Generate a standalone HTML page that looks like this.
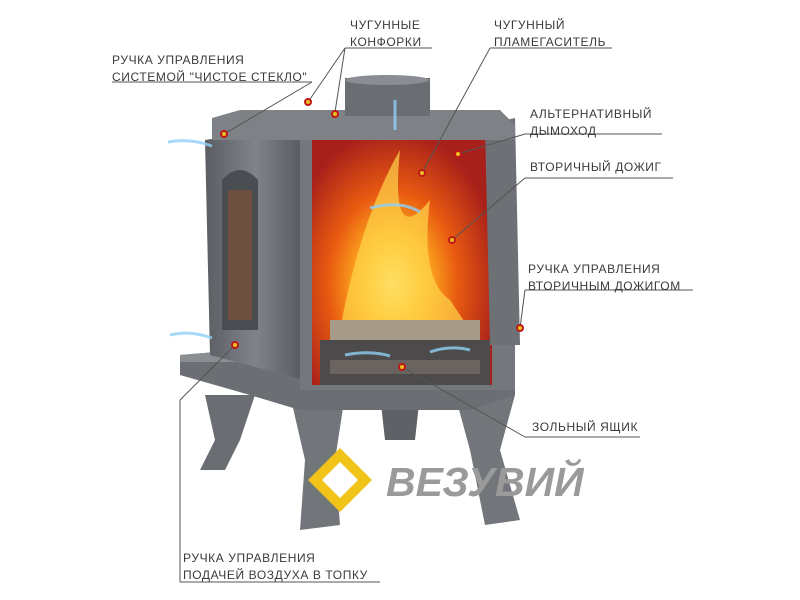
<!DOCTYPE html>
<html><head><meta charset="utf-8"><style>
html,body{margin:0;padding:0;background:#fff;width:800px;height:600px;overflow:hidden}
.t{position:absolute;font-family:"Liberation Sans",sans-serif;font-size:12px;color:#3a3a3a;letter-spacing:0.6px;line-height:17px;white-space:nowrap}
svg{position:absolute;left:0;top:0}
</style></head><body>
<svg width="800" height="600" viewBox="0 0 800 600">
<defs>
<linearGradient id="g1" x1="0" x2="1"><stop offset="0" stop-color="#5a5d62"/><stop offset="0.5" stop-color="#80848a"/><stop offset="1" stop-color="#55585d"/></linearGradient>
<radialGradient id="fire" cx="0.45" cy="0.6" r="0.6"><stop offset="0" stop-color="#fff3a0"/><stop offset="0.3" stop-color="#ffb020"/><stop offset="0.6" stop-color="#e85a10"/><stop offset="1" stop-color="#a8201a"/></radialGradient>
</defs>
<path d="M205 395 L255 395 L240 440 L225 470 L200 470 L215 440 Z" fill="#6a6d72"/>
<path d="M290 395 L345 395 L335 460 L340 525 L300 530 L305 460 Z" fill="#72767b"/>
<path d="M380 395 L420 395 L415 440 L385 440 Z" fill="#5e6166"/>
<path d="M455 395 L515 395 L500 450 L520 520 L485 525 L470 450 Z" fill="#72767b"/>
<path d="M180 355 L300 345 L515 345 L515 395 L470 410 L300 410 L250 395 L180 375 Z" fill="#6b6e73"/>
<path d="M180 355 L300 345 L515 345 L515 360 L300 362 L180 362 Z" fill="#8a8d92"/>
<path d="M205 140 L300 125 L305 380 L210 355 Z" fill="url(#g1)"/>
<path d="M222 180 Q240 160 258 180 L258 330 L222 330 Z" fill="#4a4d52"/>
<rect x="228" y="190" width="24" height="130" fill="#6d5040"/>
<rect x="300" y="122" width="215" height="268" fill="#74777c"/>
<rect x="312" y="130" width="180" height="255" fill="#8d1f1a"/>
<rect x="312" y="130" width="180" height="255" fill="url(#fire)"/>
<path d="M340 330 Q360 220 400 150 Q390 250 430 200 Q420 280 450 300 L470 330 Z" fill="#ffd54a" opacity="0.7"/>
<rect x="330" y="320" width="150" height="20" fill="#a89a88"/>
<rect x="320" y="340" width="170" height="45" fill="#4c4a4a"/>
<rect x="330" y="360" width="150" height="14" fill="#6a6360"/>
<path d="M485 125 L515 118 L520 345 L490 345 Z" fill="#6d7075"/>
<path d="M212 118 L240 110 L500 110 L515 125 L515 140 L212 140 Z" fill="#7e8186"/>
<rect x="345" y="78" width="85" height="38" fill="#6a6d72"/>
<ellipse cx="387" cy="80" rx="42" ry="5" fill="#8a8d92"/>
<path d="M340 448 L372 480 L340 512 L308 480 Z" fill="#f2c318"/>
<path d="M340 462 L358 480 L340 498 L322 480 Z" fill="#fff"/>
<text x="386" y="496" font-family="Liberation Sans" font-weight="bold" font-style="italic" font-size="41" fill="#9a9a9a">ВЕЗУВИЙ</text>
<g stroke="#555" stroke-width="1" fill="none">
<line x1="112" y1="82" x2="312" y2="82"/><line x1="312" y1="82" x2="224" y2="134"/>
<line x1="345" y1="48" x2="432" y2="48"/><line x1="345" y1="48" x2="308" y2="102"/><line x1="345" y1="48" x2="335" y2="112"/>
<line x1="490" y1="48" x2="612" y2="48"/><line x1="490" y1="48" x2="422" y2="173"/>
<line x1="525" y1="134" x2="662" y2="134"/><line x1="525" y1="134" x2="458" y2="154"/>
<line x1="525" y1="178" x2="673" y2="178"/><line x1="525" y1="178" x2="452" y2="240"/>
<line x1="525" y1="290" x2="693" y2="290"/><line x1="525" y1="290" x2="520" y2="328"/>
<line x1="525" y1="437" x2="640" y2="437"/><line x1="525" y1="437" x2="402" y2="367"/>
<line x1="180" y1="582" x2="380" y2="582"/><line x1="180" y1="582" x2="180" y2="400"/><line x1="180" y1="400" x2="235" y2="345"/>
</g>
<g fill="#e8c020" stroke="#c01818" stroke-width="2">
<circle cx="224" cy="134" r="3"/><circle cx="308" cy="102" r="3"/><circle cx="335" cy="114" r="3"/><circle cx="422" cy="173" r="3"/><circle cx="458" cy="154" r="3"/><circle cx="452" cy="240" r="3"/><circle cx="520" cy="328" r="3"/><circle cx="402" cy="367" r="3"/><circle cx="235" cy="345" r="3"/>
</g>
<g stroke="#8fd0f5" stroke-width="3" fill="none" opacity="0.8">
<path d="M168 142 Q190 138 212 146"/><path d="M170 335 Q190 330 212 338"/><path d="M370 208 Q400 200 420 212"/><path d="M345 355 Q370 350 390 356"/><path d="M430 352 Q450 345 470 350"/><path d="M395 130 L395 100"/>
</g>
</svg>
<div class="t" style="left:350px;top:17px">ЧУГУННЫЕ<br>КОНФОРКИ</div>
<div class="t" style="left:494px;top:17px">ЧУГУННЫЙ<br>ПЛАМЕГАСИТЕЛЬ</div>
<div class="t" style="left:112px;top:52px">РУЧКА УПРАВЛЕНИЯ<br>СИСТЕМОЙ "ЧИСТОЕ СТЕКЛО"</div>
<div class="t" style="left:530px;top:106px">АЛЬТЕРНАТИВНЫЙ<br>ДЫМОХОД</div>
<div class="t" style="left:530px;top:159px">ВТОРИЧНЫЙ ДОЖИГ</div>
<div class="t" style="left:528px;top:261px">РУЧКА УПРАВЛЕНИЯ<br>ВТОРИЧНЫМ ДОЖИГОМ</div>
<div class="t" style="left:532px;top:419px">ЗОЛЬНЫЙ ЯЩИК</div>
<div class="t" style="left:183px;top:550px">РУЧКА УПРАВЛЕНИЯ<br>ПОДАЧЕЙ ВОЗДУХА В ТОПКУ</div>
</body></html>
